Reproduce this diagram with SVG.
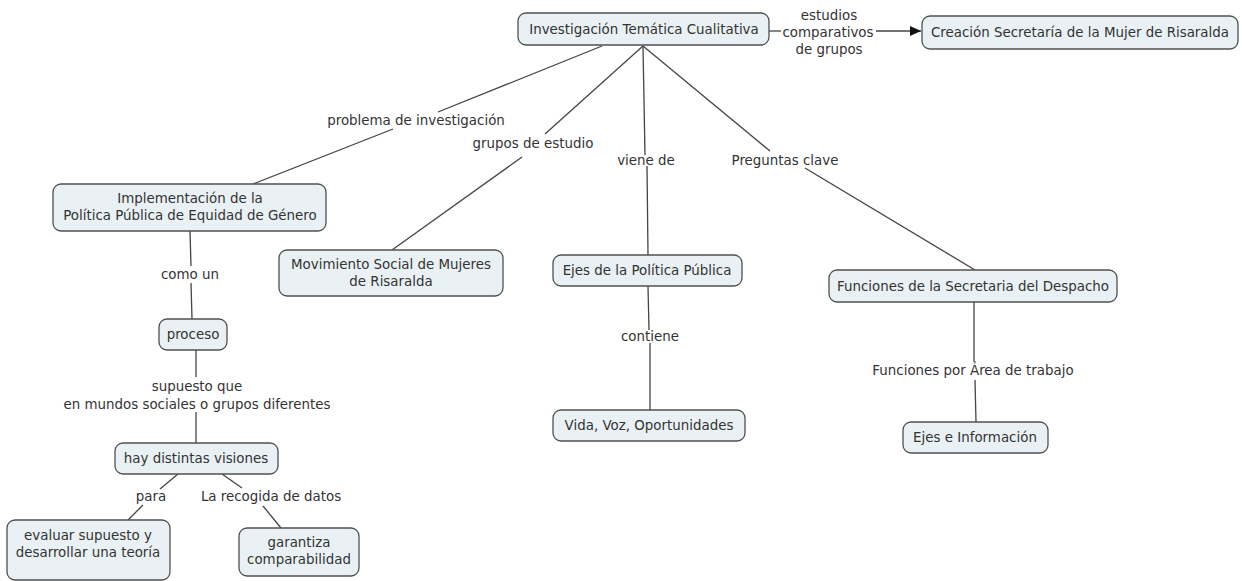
<svg xmlns="http://www.w3.org/2000/svg" width="1242" height="581" viewBox="0 0 1242 581">
<defs>
<style>
.box{fill:#e9f1f4;stroke:#505050;stroke-width:1.3}
.t{font-family:"DejaVu Sans",Verdana,sans-serif;font-size:13.4px;fill:#333;text-anchor:middle}
.c{fill:none;stroke:#454545;stroke-width:1.3}
</style>
<marker id="ah" markerWidth="12" markerHeight="12" refX="11" refY="6" orient="auto" markerUnits="userSpaceOnUse">
<path d="M0,1 L11,6 L0,11 Z" fill="#111"/>
</marker>
</defs>
<rect width="1242" height="581" fill="#fff"/>
<g id="connectors">
<line class="c" x1="769" y1="31" x2="781" y2="31"/>
<line class="c" x1="876" y1="31" x2="921" y2="31" marker-end="url(#ah)"/>
<line class="c" x1="602" y1="46" x2="438" y2="112"/>
<line class="c" x1="393" y1="129" x2="253" y2="184"/>
<line class="c" x1="643" y1="46" x2="545" y2="134"/>
<line class="c" x1="522" y1="157" x2="392" y2="250"/>
<line class="c" x1="643" y1="46" x2="645" y2="155"/>
<line class="c" x1="647" y1="166" x2="648" y2="255"/>
<line class="c" x1="643" y1="46" x2="770" y2="151"/>
<line class="c" x1="805" y1="168" x2="975" y2="270"/>
<line class="c" x1="190" y1="231" x2="191" y2="266"/>
<line class="c" x1="191" y1="283" x2="192" y2="319"/>
<line class="c" x1="196" y1="350" x2="196" y2="377"/>
<line class="c" x1="196" y1="412" x2="196" y2="443"/>
<line class="c" x1="648" y1="286" x2="649" y2="330"/>
<line class="c" x1="650" y1="343" x2="650" y2="410"/>
<line class="c" x1="974" y1="302" x2="974" y2="362"/>
<line class="c" x1="975" y1="380" x2="976" y2="422"/>
<line class="c" x1="178" y1="474" x2="160" y2="489"/>
<line class="c" x1="143" y1="505" x2="128" y2="520"/>
<line class="c" x1="222" y1="474" x2="242" y2="488"/>
<line class="c" x1="263" y1="506" x2="281" y2="528"/>
</g>
<g id="labels">
<text class="t"><tspan x="829" y="20">estudios</tspan><tspan x="828" y="37">comparativos</tspan><tspan x="829" y="54">de grupos</tspan></text>
<text class="t" x="416" y="125">problema de investigación</text>
<text class="t" x="533" y="148">grupos de estudio</text>
<text class="t" x="646" y="165">viene de</text>
<text class="t" x="785" y="165">Preguntas clave</text>
<text class="t" x="190" y="279">como un</text>
<text class="t" x="650" y="341">contiene</text>
<text class="t"><tspan x="197" y="391">supuesto que</tspan><tspan x="197" y="409">en mundos sociales o grupos diferentes</tspan></text>
<text class="t" x="973" y="375">Funciones por Área de trabajo</text>
<text class="t" x="151" y="501">para</text>
<text class="t" x="271" y="501">La recogida de datos</text>
</g>
<g id="n1"><rect class="box" x="518" y="13" width="251" height="32" rx="8"/><text class="t" x="644" y="34">Investigación Temática Cualitativa</text></g>
<g id="n2"><rect class="box" x="922" y="16" width="316" height="33" rx="8"/><text class="t" x="1080" y="37">Creación Secretaría de la Mujer de Risaralda</text></g>
<g id="n3"><rect class="box" x="53" y="184" width="273" height="47" rx="8"/><text class="t"><tspan x="190" y="203">Implementación de la</tspan><tspan x="190" y="220">Política Pública de Equidad de Género</tspan></text></g>
<g id="n4"><rect class="box" x="279" y="250" width="224" height="46" rx="8"/><text class="t"><tspan x="391" y="269">Movimiento Social de Mujeres</tspan><tspan x="391" y="286">de Risaralda</tspan></text></g>
<g id="n5"><rect class="box" x="553" y="255" width="189" height="31" rx="8"/><text class="t" x="647" y="275">Ejes de la Política Pública</text></g>
<g id="n6"><rect class="box" x="829" y="270" width="288" height="32" rx="8"/><text class="t" x="973" y="291">Funciones de la Secretaria del Despacho</text></g>
<g id="n7"><rect class="box" x="159" y="319" width="68" height="31" rx="8"/><text class="t" x="193" y="339">proceso</text></g>
<g id="n8"><rect class="box" x="553" y="410" width="192" height="31" rx="8"/><text class="t" x="649" y="430">Vida, Voz, Oportunidades</text></g>
<g id="n9"><rect class="box" x="903" y="422" width="145" height="31" rx="8"/><text class="t" x="975" y="442">Ejes e Información</text></g>
<g id="n10"><rect class="box" x="115" y="443" width="163" height="31" rx="8"/><text class="t" x="196" y="463">hay distintas visiones</text></g>
<g id="n11"><rect class="box" x="7" y="520" width="163" height="60" rx="8"/><text class="t"><tspan x="88" y="540">evaluar supuesto y</tspan><tspan x="88" y="557">desarrollar una teoría</tspan></text></g>
<g id="n12"><rect class="box" x="239" y="528" width="120" height="48" rx="8"/><text class="t"><tspan x="299" y="547">garantiza</tspan><tspan x="299" y="564">comparabilidad</tspan></text></g>
</svg>
